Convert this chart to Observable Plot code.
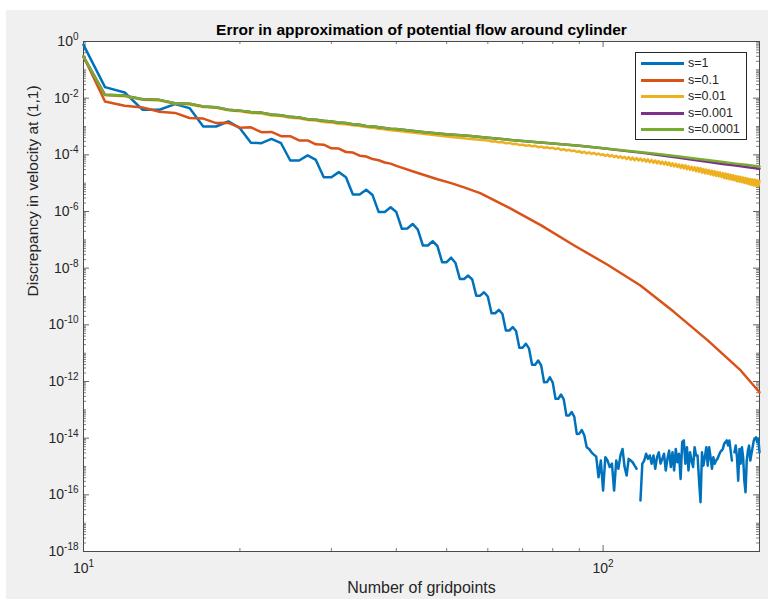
<!DOCTYPE html>
<html><head><meta charset="utf-8">
<script src="https://cdn.jsdelivr.net/npm/d3@7"></script>
<script src="https://cdn.jsdelivr.net/npm/@observablehq/plot@0.6"></script>
<style>
body{margin:0;background:#fff;}
#fig{position:relative;width:772px;height:599px;background:#fff;font-family:"Liberation Sans",Arial,Helvetica,sans-serif;overflow:hidden;}
#chart{position:absolute;left:6px;top:10px;}
#legend{position:absolute;left:635px;top:52px;width:110px;height:86px;background:#fff;border:1px solid #262626;}
.sw{position:absolute;left:5px;width:43px;height:3px;}
.lab{position:absolute;left:52px;height:16px;line-height:16px;font-size:12.5px;color:#262626;white-space:nowrap;}
</style></head><body>
<div id="fig"><div id="chart"></div><div id="legend"></div></div>
<script>
const chartTitle = "Error in approximation of potential flow around cylinder";
const xLabel = "Number of gridpoints";
const yLabel = "Discrepancy in velocity at (1,1)";
const seriesNames = ["s=1", "s=0.1", "s=0.01", "s=0.001", "s=0.0001"];
const seriesColors = ["#0072BD", "#D95319", "#EDB120", "#7E2F8E", "#77AC30"];

const gridpoints = [
  10,11,12,13,14,15,16,17,18,19, 20,21,22,23,24,25,26,27,28,29,
  30,31,32,33,34,35,36,37,38,39, 40,41,42,43,44,45,46,47,48,49,
  50,51,52,53,54,55,56,57,58,59, 60,61,62,63,64,65,66,67,68,69,
  70,71,72,73,74,75,76,77,78,79, 80,81,82,83,84,85,86,87,88,89,
  90,91,92,93,94,95,96,97,98,99, 100,101,102,103,104,105,106,107,108,109,
  110,111,112,113,114,115,116,117,118,119, 120,121,122,123,124,125,126,127,128,129,
  130,131,132,133,134,135,136,137,138,139, 140,141,142,143,144,145,146,147,148,149,
  150,151,152,153,154,155,156,157,158,159, 160,161,162,163,164,165,166,167,168,169,
  170,171,172,173,174,175,176,177,178,179, 180,181,182,183,184,185,186,187,188,189,
  190,191,192,193,194,195,196,197,198,199, 200
];

// log10 of the discrepancy
const s1_log10 = [
  -0.12,-1.61,-1.80,-2.41,-2.41,-2.21,-2.35,-3.00,-3.00,-2.82,
  -3.06,-3.57,-3.59,-3.44,-3.59,-4.20,-4.20,-4.02,-4.18,-4.79,
  -4.79,-4.61,-4.79,-5.40,-5.40,-5.23,-5.42,-6.02,-6.02,-5.85,
  -6.02,-6.61,-6.60,-6.44,-6.64,-7.20,-7.20,-7.05,-7.22,-7.79,
  -7.79,-7.63,-7.82,-8.38,-8.38,-8.26,-8.40,-8.97,-8.97,-8.85,
  -9.00,-9.59,-9.59,-9.47,-9.61,-10.20,-10.20,-10.08,-10.22,-10.81,
  -10.81,-10.67,-10.83,-11.41,-11.41,-11.26,-11.43,-12.03,-12.02,-11.85,
  -12.04,-12.61,-12.61,-12.46,-12.63,-13.20,-13.20,-13.08,-13.24,-13.85,
  -13.84,-13.71,-13.90,-14.32,-14.38,-14.50,-14.58,-14.65,-15.38,-14.79,
  -15.85,-14.67,-14.79,-15.02,-14.90,-15.85,-14.79,-15.08,-14.61,-14.38,
  -15.02,-15.32,-14.73,-14.79,-14.85,-14.97,-15.08,null,-16.20,-14.90,
  -14.79,-14.55,-14.73,-14.61,-14.90,-14.61,-15.08,-14.67,-14.50,-14.90,
  -14.73,-14.55,-15.14,-14.73,-14.44,-15.02,-14.50,-15.14,-14.38,-14.85,
  -14.55,-15.44,-14.14,-14.08,-14.90,-14.32,-15.14,-14.50,-14.79,-15.02,
  -14.32,-14.61,-14.61,-15.50,-16.26,-14.50,-14.97,-14.67,-14.32,-14.97,
  -14.32,-14.67,-15.08,-14.67,-14.90,-14.79,-14.73,-14.61,-14.50,-14.44,
  -14.38,-14.20,-14.14,-14.08,-14.26,-14.08,-14.44,-14.79,null,-14.50,
  -14.26,-14.67,-15.50,-14.38,-14.90,-14.32,-14.67,-15.50,-15.91,-14.79,
  -14.44,-14.26,-14.79,-14.55,-14.32,-14.08,-14.02,-13.97,-14.14,-14.02,
  -14.50
];

const s01_N = gridpoints.slice(0, 31).concat([44,48,51,54,58,66,76,88,102,118,137,159,184,200]);
const s01_log10 = [
  -0.53,-2.12,-2.27,-2.33,-2.48,-2.52,-2.70,-2.72,-2.88,-2.87,
  -3.04,-3.03,-3.20,-3.19,-3.34,-3.34,-3.49,-3.49,-3.63,-3.64,
  -3.77,-3.78,-3.90,-3.92,-4.03,-4.06,-4.15,-4.19,-4.27,-4.31,
  -4.39,
  -4.64,-4.86,-5.00,-5.15,-5.35,-5.87,-6.49,-7.20,-7.88,-8.61,-9.55,-10.55,-11.61,-12.38
];

const s001_N = gridpoints.slice(0, 31).concat([45,50,55], gridpoints.slice(50));
const s001_log10 = [
  -0.53,-1.90,-1.93,-2.06,-2.08,-2.20,-2.22,-2.31,-2.34,-2.43,
  -2.46,-2.52,-2.54,-2.61,-2.63,-2.69,-2.71,-2.77,-2.79,-2.84,
  -2.86,-2.90,-2.92,-2.96,-2.98,-3.02,-3.04,-3.08,-3.10,-3.13,
  -3.15,
  -3.26,-3.35,-3.43,
  -3.49,-3.53,-3.52,-3.56,-3.55,-3.59,-3.58,-3.62,-3.61,-3.65,
  -3.64,-3.68,-3.66,-3.70,-3.68,-3.73,-3.71,-3.75,-3.73,-3.77,
  -3.75,-3.80,-3.77,-3.83,-3.80,-3.85,-3.82,-3.87,-3.85,-3.90,
  -3.87,-3.93,-3.89,-3.95,-3.91,-3.97,-3.93,-3.99,-3.95,-4.01,
  -3.98,-4.04,-3.99,-4.06,-4.01,-4.08,-4.03,-4.10,-4.05,-4.12,
  -4.07,-4.15,-4.08,-4.17,-4.10,-4.19,-4.11,-4.20,-4.13,-4.22,
  -4.15,-4.24,-4.16,-4.26,-4.18,-4.28,-4.20,-4.30,-4.22,-4.32,
  -4.24,-4.34,-4.25,-4.36,-4.27,-4.39,-4.30,-4.41,-4.32,-4.43,
  -4.34,-4.46,-4.35,-4.48,-4.37,-4.51,-4.40,-4.53,-4.42,-4.55,
  -4.44,-4.58,-4.45,-4.60,-4.47,-4.63,-4.50,-4.65,-4.52,-4.67,
  -4.54,-4.70,-4.56,-4.72,-4.58,-4.74,-4.60,-4.76,-4.62,-4.78,
  -4.65,-4.82,-4.66,-4.84,-4.68,-4.86,-4.70,-4.88,-4.72,-4.90,
  -4.75,-4.93,-4.76,-4.95,-4.78,-4.97,-4.80,-4.99,-4.82,-5.01,
  -4.84,-5.04,-4.85,-5.06,-4.87,-5.08,-4.88,-5.09,-4.90,-5.11,
  -4.92
];

const s0001_N = gridpoints.slice(0, 31).concat([45,50,55,60,70,80,90,100,110,120,130,140,150,160,170,180,190,200]);
const s0001_log10 = [
  -0.53,-1.88,-1.91,-2.04,-2.06,-2.18,-2.20,-2.29,-2.32,-2.41,
  -2.44,-2.49,-2.51,-2.58,-2.60,-2.66,-2.68,-2.74,-2.76,-2.80,
  -2.82,-2.86,-2.88,-2.92,-2.94,-2.98,-2.99,-3.03,-3.05,-3.08,
  -3.09,
  -3.19,-3.27,-3.33,-3.40,-3.51,-3.60,-3.68,-3.77,-3.86,-3.94,-4.02,-4.10,-4.18,-4.25,-4.32,-4.38,-4.44,-4.49
];

const s00001_N = s0001_N;
const s00001_log10 = [
  -0.53,-1.88,-1.91,-2.04,-2.06,-2.18,-2.20,-2.29,-2.32,-2.41,
  -2.44,-2.49,-2.51,-2.58,-2.60,-2.66,-2.68,-2.74,-2.76,-2.80,
  -2.82,-2.86,-2.88,-2.92,-2.94,-2.98,-2.99,-3.03,-3.05,-3.08,
  -3.09,
  -3.19,-3.27,-3.33,-3.40,-3.51,-3.60,-3.68,-3.77,-3.85,-3.92,-3.99,-4.06,-4.13,-4.19,-4.25,-4.31,-4.36,-4.41
];

const yMajorExponents = [0,-2,-4,-6,-8,-10,-12,-14,-16,-18];
const yDecadeExponents = [-1,-2,-3,-4,-5,-6,-7,-8,-9,-10,-11,-12,-13,-14,-15,-16,-17,-18];
const xMajorTicks = [10, 100];
const xMinorTicks = [20,30,40,50,60,70,80,90,200];

const seriesX = [gridpoints, s01_N, s001_N, s0001_N, s00001_N];
const seriesY = [s1_log10, s01_log10, s001_log10, s0001_log10, s00001_log10];

const tables = seriesNames.map((name, i) => seriesX[i].map((n, j) => ({
  series: name, n, v: seriesY[i][j] == null ? null : Math.pow(10, seriesY[i][j])
})));

const yMajor = yMajorExponents.map(e => Math.pow(10, e));
const yMinor = [];
for (const e of yDecadeExponents) {
  for (let k = 1; k <= 9; k++) {
    if (k === 1 && yMajorExponents.includes(e)) continue;
    yMinor.push(k * Math.pow(10, e));
  }
}

const W = 762, H = 589, mL = 77, mR = 9, mT = 31, mB = 48;
const pw = W - mL - mR, ph = H - mT - mB;
const ax = "#262626";
const fontFam = "'Liberation Sans', Arial, Helvetica, sans-serif";
const supFmt = d => `10|${Math.round(Math.log10(d))}`;

const svg = Plot.plot({
  width: W, height: H,
  marginLeft: mL, marginRight: mR, marginTop: mT, marginBottom: mB,
  style: {background: "#f0f0f0", fontFamily: fontFam, fontSize: "14px", color: ax, overflow: "visible"},
  x: {type: "log", domain: [10, 200], ticks: xMajorTicks, tickFormat: supFmt, tickSize: 0, tickPadding: 12, label: null},
  y: {type: "log", domain: [1e-18, 1], ticks: yMajor, tickFormat: supFmt, tickSize: 0, tickPadding: 5, label: null},
  marks: [
    Plot.frame({fill: "white", stroke: "none"}),
    Plot.ruleY(yMajor, {insetRight: pw - 6, stroke: ax, strokeWidth: 0.7}),
    Plot.ruleY(yMajor, {insetLeft: pw - 6, stroke: ax, strokeWidth: 0.7}),
    Plot.ruleY(yMinor, {insetRight: pw - 3, stroke: ax, strokeWidth: 0.6}),
    Plot.ruleY(yMinor, {insetLeft: pw - 3, stroke: ax, strokeWidth: 0.6}),
    Plot.ruleX(xMajorTicks, {insetTop: ph - 6, stroke: ax, strokeWidth: 0.7}),
    Plot.ruleX(xMajorTicks, {insetBottom: ph - 6, stroke: ax, strokeWidth: 0.7}),
    Plot.ruleX(xMinorTicks, {insetTop: ph - 3, stroke: ax, strokeWidth: 0.6}),
    Plot.ruleX(xMinorTicks, {insetBottom: ph - 3, stroke: ax, strokeWidth: 0.6}),
    Plot.frame({stroke: "#4a4a4a", strokeWidth: 1}),
    ...tables.map((t, i) => Plot.line(t, {x: "n", y: "v", stroke: seriesColors[i], strokeWidth: 2.5, strokeLinejoin: "round"})),
    Plot.text([chartTitle], {text: d => d, frameAnchor: "top", dy: -11, lineAnchor: "middle", fontWeight: "bold", fontSize: 15.5, fill: "#000"}),
    Plot.text([xLabel], {text: d => d, frameAnchor: "bottom", dy: 36, lineAnchor: "middle", fontSize: 16, fill: ax}),
    Plot.text([yLabel], {text: d => d, frameAnchor: "left", dx: -50, rotate: -90, lineAnchor: "middle", fontSize: 15.5, fill: ax})
  ]
});

d3.select(svg).selectAll("text").each(function() {
  const t = this.textContent;
  if (!t.includes("|")) return;
  const [b, e] = t.split("|");
  const sel = d3.select(this);
  sel.text(null);
  sel.append("tspan").text(b);
  sel.append("tspan").attr("dy", "-0.6em").attr("font-size", "10px").text(e);
});

document.getElementById("chart").appendChild(svg);

const legend = document.getElementById("legend");
const legendCy = [10, 27, 43, 60, 76];
seriesNames.forEach((name, i) => {
  const sw = document.createElement("div");
  sw.className = "sw";
  sw.style.top = (legendCy[i] - 1) + "px";
  sw.style.background = seriesColors[i];
  legend.appendChild(sw);
  const lab = document.createElement("div");
  lab.className = "lab";
  lab.style.top = (legendCy[i] - 8) + "px";
  lab.textContent = name;
  legend.appendChild(lab);
});
</script>
</body></html>
